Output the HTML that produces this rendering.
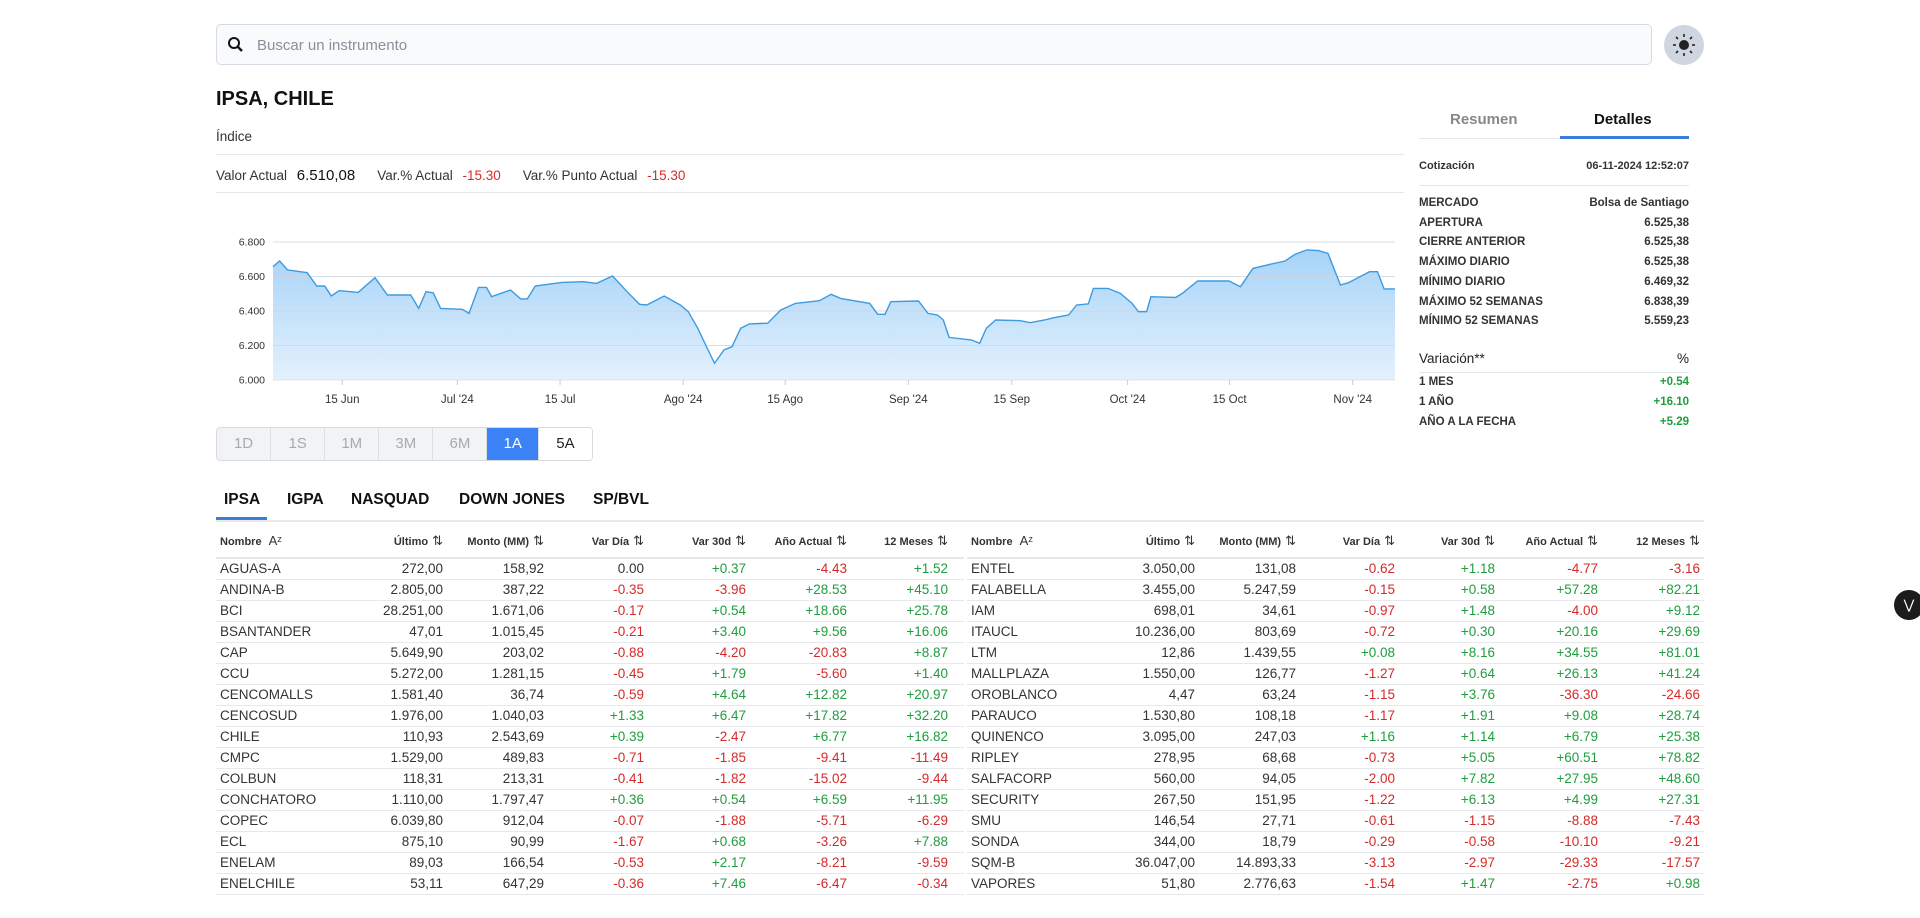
<!DOCTYPE html>
<html><head><meta charset="utf-8">
<style>
*{box-sizing:border-box;margin:0;padding:0}
body{width:1920px;height:918px;background:#fff;font-family:"Liberation Sans",sans-serif;color:#222;position:relative;overflow:hidden}
.abs{position:absolute}
.search{left:216px;top:24px;width:1436px;height:41px;border:1px solid #d6dbe3;border-radius:5px;background:#f8fafc}
.search span{position:absolute;left:40px;top:12px;font-size:15px;color:#8a8f98}
.theme{left:1664px;top:25px;width:40px;height:40px;border-radius:50%;background:#cfd6df}
.line{height:1px;background:#e3e6ea}
.green{color:#1f9d3f}.red{color:#d42a2a}
.kv{font-size:11.5px;font-weight:bold;color:#333;left:1419px;width:270px;height:20px}
.kv b{position:absolute;right:0;font-weight:bold}
.btns{left:216px;top:427px;width:377px;height:34px;border:1px solid #d8dce2;border-radius:4px;display:flex;overflow:hidden;background:#f1f3f5}
.btns div{flex:1;text-align:center;line-height:32px;font-size:15px;color:#a6abb2;border-right:1px solid #dcdfe4}
.btns div.on{background:#3b82f6;color:#fff;flex:0.95}
.btns div.w{background:#fff;color:#222}
.tabs{left:216px;top:488px;font-size:15.5px;font-weight:bold;color:#111}
table{position:absolute;border-collapse:collapse;table-layout:fixed;font-size:13.5px}
th{font-size:11px;font-weight:bold;color:#333;text-align:right;height:34px;border-bottom:2px solid #e6e8eb}
th:first-child,td:first-child{text-align:left;padding-left:4px}
td{text-align:right;height:21px;border-bottom:1px solid #e6e8eb;color:#333}
.si{font-size:13px;margin-left:4px;font-weight:normal}
</style></head><body>
<div class="abs search">
<svg class="abs" style="left:10px;top:11px" width="18" height="18" viewBox="0 0 18 18"><circle cx="7" cy="7" r="5" stroke="#111" stroke-width="2" fill="none"/><line x1="10.5" y1="10.5" x2="15" y2="15" stroke="#111" stroke-width="2.4"/></svg>
<span>Buscar un instrumento</span></div>
<div class="abs theme"><svg width="40" height="40" viewBox="0 0 40 40"><circle cx="20" cy="20" r="5" fill="#222"/><g stroke="#222" stroke-width="1.6"><line x1="20" y1="9" x2="20" y2="12"/><line x1="20" y1="28" x2="20" y2="31"/><line x1="9" y1="20" x2="12" y2="20"/><line x1="28" y1="20" x2="31" y2="20"/><line x1="12" y1="12" x2="14" y2="14"/><line x1="26" y1="26" x2="28" y2="28"/><line x1="12" y1="28" x2="14" y2="26"/><line x1="26" y1="14" x2="28" y2="12"/></g></svg></div>
<div class="abs" style="left:216px;top:88px;font-size:20px;font-weight:bold;color:#111">IPSA, CHILE</div>
<div class="abs" style="left:216px;top:129px;font-size:13.5px;color:#333">Índice</div>
<div class="abs line" style="left:216px;top:154px;width:1188px"></div>
<div class="abs" style="left:216px;top:167px;font-size:13.5px;color:#333;white-space:nowrap">Valor Actual <span style="font-size:15px;color:#111;margin-left:6px">6.510,08</span><span style="margin-left:22px">Var.% Actual</span> <span class="red" style="margin-left:6px">-15.30</span><span style="margin-left:22px">Var.% Punto Actual</span> <span class="red" style="margin-left:6px">-15.30</span></div>
<div class="abs line" style="left:216px;top:192px;width:1188px"></div>
<svg class="abs" id="chart" style="left:216px;top:200px" width="1190" height="215"></svg>
<div class="abs btns">
<div>1D</div><div>1S</div><div>1M</div><div>3M</div><div>6M</div><div class="on">1A</div><div class="w" style="border-right:none">5A</div></div>

<div class="abs" style="left:1450px;top:111px;font-size:15px;font-weight:bold;color:#888">Resumen</div>
<div class="abs" style="left:1594px;top:111px;font-size:15px;font-weight:bold;color:#111">Detalles</div>
<div class="abs line" style="left:1419px;top:138px;width:270px"></div>
<div class="abs" style="left:1560px;top:136px;width:129px;height:3px;background:#3b7dd8"></div>
<div class="abs kv" style="top:160px;font-size:11px">Cotización<b>06-11-2024 12:52:07</b></div>
<div class="abs line" style="left:1419px;top:185px;width:270px"></div>
<div id="kvs"></div>
<div class="abs" style="left:1419px;top:351px;width:270px;font-size:13.5px;color:#222">Variación**<span style="position:absolute;right:0">%</span></div>
<div class="abs line" style="left:1419px;top:372px;width:270px"></div>
<div class="abs kv" style="top:376px">1 MES<b class="green">+0.54</b></div>
<div class="abs kv" style="top:396px">1 AÑO<b class="green">+16.10</b></div>
<div class="abs kv" style="top:416px">AÑO A LA FECHA<b class="green">+5.29</b></div>

<div class="abs tabs">
<span class="abs" style="left:8px;top:3px">IPSA</span>
<span class="abs" style="left:71px;top:3px;white-space:nowrap">IGPA</span>
<span class="abs" style="left:135px;top:3px">NASQUAD</span>
<span class="abs" style="left:243px;top:3px;white-space:nowrap">DOWN JONES</span>
<span class="abs" style="left:377px;top:3px;white-space:nowrap">SP/BVL</span></div>
<div class="abs line" style="left:216px;top:520px;width:1488px;height:2px;background:#e6e8eb"></div>
<div class="abs" style="left:216px;top:517px;width:51px;height:3px;background:#3b7dd8"></div>
<div class="abs" style="left:1894px;top:590px;width:30px;height:30px;border-radius:50%;background:#1c1c1c;color:#fff;font-size:13px;text-align:center;line-height:30px">⋁</div>

<table id="t1" style="left:216px;top:524px;width:748px"><colgroup><col style="width:120px"><col style="width:107px"><col style="width:101px"><col style="width:100px"><col style="width:102px"><col style="width:101px"><col style="width:117px"></colgroup></table>
<table id="t2" style="left:967px;top:524px;width:737px"><colgroup><col style="width:120px"><col style="width:108px"><col style="width:101px"><col style="width:99px"><col style="width:100px"><col style="width:103px"><col style="width:106px"></colgroup></table>

<script>
// chart data
const days=[0,0.9,2.0,4.7,6.0,7.1,8.0,9.1,11.7,14.0,15.7,18.9,20.0,21.0,22.0,23.0,26.0,26.9,28.2,29.3,30.0,32.6,34.0,34.9,36.0,38.6,39.7,42.6,44.4,46.6,48.6,50.3,51.3,53.7,55.9,57.0,58.3,59.5,60.6,61.9,63.0,64.2,65.4,67.9,69.7,71.7,75.0,76.6,77.9,81.9,83.0,84.0,84.8,88.6,89.9,91.2,92.0,92.8,95.9,97.0,97.9,99.2,102.6,103.9,105.9,107.2,109.2,110.3,111.9,112.6,114.6,116.3,117.9,118.8,119.9,120.5,123.9,124.8,126.9,131.2,132.8,134.5,136.5,138.9,140.3,141.9,143.5,144.8,146.5,147.6,150.5,151.6,152.5,154];
const values=[6657,6690,6638,6622,6545,6545,6487,6518,6508,6593,6493,6493,6415,6512,6505,6415,6410,6386,6537,6537,6483,6522,6470,6470,6545,6560,6566,6570,6560,6603,6512,6439,6435,6487,6435,6396,6300,6193,6097,6174,6193,6300,6325,6329,6406,6444,6460,6497,6473,6444,6381,6381,6454,6458,6386,6377,6348,6247,6232,6213,6300,6348,6344,6332,6348,6361,6377,6435,6441,6531,6531,6502,6444,6396,6396,6483,6479,6502,6574,6574,6541,6647,6667,6690,6729,6754,6750,6734,6551,6564,6628,6628,6528,6528];
const yTicks=[6000,6200,6400,6600,6800];
const yTickLabels=["6.000","6.200","6.400","6.600","6.800"];
const xTickDays=[9.5,25.3,39.4,56.3,70.3,87.2,101.4,117.3,131.3,148.2];
const xTickLabels=["15 Jun","Jul '24","15 Jul","Ago '24","15 Ago","Sep '24","15 Sep","Oct '24","15 Oct","Nov '24"];
const NS="http://www.w3.org/2000/svg";
const svg=document.getElementById('chart');
const X0=57,X1=1179,Y0=180,Y1=42;
const xs=d=>X0+(d-0)/(154-0)*(X1-X0);
const ys=v=>Y0-(v-6000)/(6800-6000)*(Y0-Y1);
function mk(t,a){const e=document.createElementNS(NS,t);for(const k in a)e.setAttribute(k,a[k]);svg.appendChild(e);return e;}
const defs=mk('defs',{});defs.innerHTML='<linearGradient id="g" x1="0" y1="0" x2="0" y2="1"><stop offset="0" stop-color="#a6d3f8"/><stop offset="1" stop-color="#e4f1fd"/></linearGradient>';
let pts=days.map((d,i)=>xs(d).toFixed(1)+','+ys(values[i]).toFixed(1));
const area=mk('path',{d:'M'+xs(days[0])+','+Y0+' L'+pts.join(' L')+' L'+xs(days[days.length-1])+','+Y0+' Z',fill:'url(#g)'});

yTicks.forEach((v,i)=>{const l=mk('line',{x1:X0,x2:X1,y1:ys(v),y2:ys(v),stroke:i==0?'#d8dde3':'#cfd6dd','stroke-opacity':0.8,'stroke-width':1});

const t=mk('text',{x:X0-8,y:ys(v)+3.5,'text-anchor':'end','font-size':'10.5',fill:'#333','font-family':'Liberation Sans'});t.textContent=yTickLabels[i];
});
const ln=mk('polyline',{points:pts.join(' '),fill:'none',stroke:'#3d9be0','stroke-width':1.4});

xTickDays.forEach((d,i)=>{const l=mk('line',{x1:xs(d),x2:xs(d),y1:Y0,y2:Y0+5,stroke:'#ccc'});

const t=mk('text',{x:xs(d),y:Y0+23,'text-anchor':'middle','font-size':'11.5',fill:'#333','font-family':'Liberation Sans'});t.textContent=xTickLabels[i];
});

// details
const kv=[["MERCADO","Bolsa de Santiago"],["APERTURA","6.525,38"],["CIERRE ANTERIOR","6.525,38"],["MÁXIMO DIARIO","6.525,38"],["MÍNIMO DIARIO","6.469,32"],["MÁXIMO 52 SEMANAS","6.838,39"],["MÍNIMO 52 SEMANAS","5.559,23"]];
const kc=document.getElementById('kvs');
kv.forEach((r,i)=>{const d=document.createElement('div');d.className='abs kv';d.style.top=(197+i*19.7)+'px';d.innerHTML=r[0]+'<b>'+r[1]+'</b>';


kc.appendChild(d);});

// tables
const left=[["AGUAS-A","272,00","158,92","0.00","+0.37","-4.43","+1.52"],["ANDINA-B","2.805,00","387,22","-0.35","-3.96","+28.53","+45.10"],["BCI","28.251,00","1.671,06","-0.17","+0.54","+18.66","+25.78"],["BSANTANDER","47,01","1.015,45","-0.21","+3.40","+9.56","+16.06"],["CAP","5.649,90","203,02","-0.88","-4.20","-20.83","+8.87"],["CCU","5.272,00","1.281,15","-0.45","+1.79","-5.60","+1.40"],["CENCOMALLS","1.581,40","36,74","-0.59","+4.64","+12.82","+20.97"],["CENCOSUD","1.976,00","1.040,03","+1.33","+6.47","+17.82","+32.20"],["CHILE","110,93","2.543,69","+0.39","-2.47","+6.77","+16.82"],["CMPC","1.529,00","489,83","-0.71","-1.85","-9.41","-11.49"],["COLBUN","118,31","213,31","-0.41","-1.82","-15.02","-9.44"],["CONCHATORO","1.110,00","1.797,47","+0.36","+0.54","+6.59","+11.95"],["COPEC","6.039,80","912,04","-0.07","-1.88","-5.71","-6.29"],["ECL","875,10","90,99","-1.67","+0.68","-3.26","+7.88"],["ENELAM","89,03","166,54","-0.53","+2.17","-8.21","-9.59"],["ENELCHILE","53,11","647,29","-0.36","+7.46","-6.47","-0.34"]];
const right=[["ENTEL","3.050,00","131,08","-0.62","+1.18","-4.77","-3.16"],["FALABELLA","3.455,00","5.247,59","-0.15","+0.58","+57.28","+82.21"],["IAM","698,01","34,61","-0.97","+1.48","-4.00","+9.12"],["ITAUCL","10.236,00","803,69","-0.72","+0.30","+20.16","+29.69"],["LTM","12,86","1.439,55","+0.08","+8.16","+34.55","+81.01"],["MALLPLAZA","1.550,00","126,77","-1.27","+0.64","+26.13","+41.24"],["OROBLANCO","4,47","63,24","-1.15","+3.76","-36.30","-24.66"],["PARAUCO","1.530,80","108,18","-1.17","+1.91","+9.08","+28.74"],["QUINENCO","3.095,00","247,03","+1.16","+1.14","+6.79","+25.38"],["RIPLEY","278,95","68,68","-0.73","+5.05","+60.51","+78.82"],["SALFACORP","560,00","94,05","-2.00","+7.82","+27.95","+48.60"],["SECURITY","267,50","151,95","-1.22","+6.13","+4.99","+27.31"],["SMU","146,54","27,71","-0.61","-1.15","-8.88","-7.43"],["SONDA","344,00","18,79","-0.29","-0.58","-10.10","-9.21"],["SQM-B","36.047,00","14.893,33","-3.13","-2.97","-29.33","-17.57"],["VAPORES","51,80","2.776,63","-1.54","+1.47","-2.75","+0.98"]];
const heads=["Nombre","Último","Monto (MM)","Var Día","Var 30d","Año Actual","12 Meses"];
function build(id,rows,padR){const t=document.getElementById(id);
let h='<tr>'+heads.map((x,i)=>'<th'+(i==6?' style="padding-right:'+padR+'px"':'')+'>'+x+(i==0?' <span class="si">A&#x1DBB;</span>':'<span class="si">⇅</span>')+'</th>').join('')+'</tr>';
rows.forEach(r=>{h+='<tr>'+r.map((c,i)=>{let cls='';if(i>=3){cls=c[0]=='+'?'green':c[0]=='-'?'red':'';}
return '<td class="'+cls+'"'+(i==6?' style="padding-right:'+padR+'px"':'')+'>'+c+'</td>';}).join('')+'</tr>';});
t.insertAdjacentHTML('beforeend',h);}
build('t1',left,16);build('t2',right,4);
</script>
</body></html>
